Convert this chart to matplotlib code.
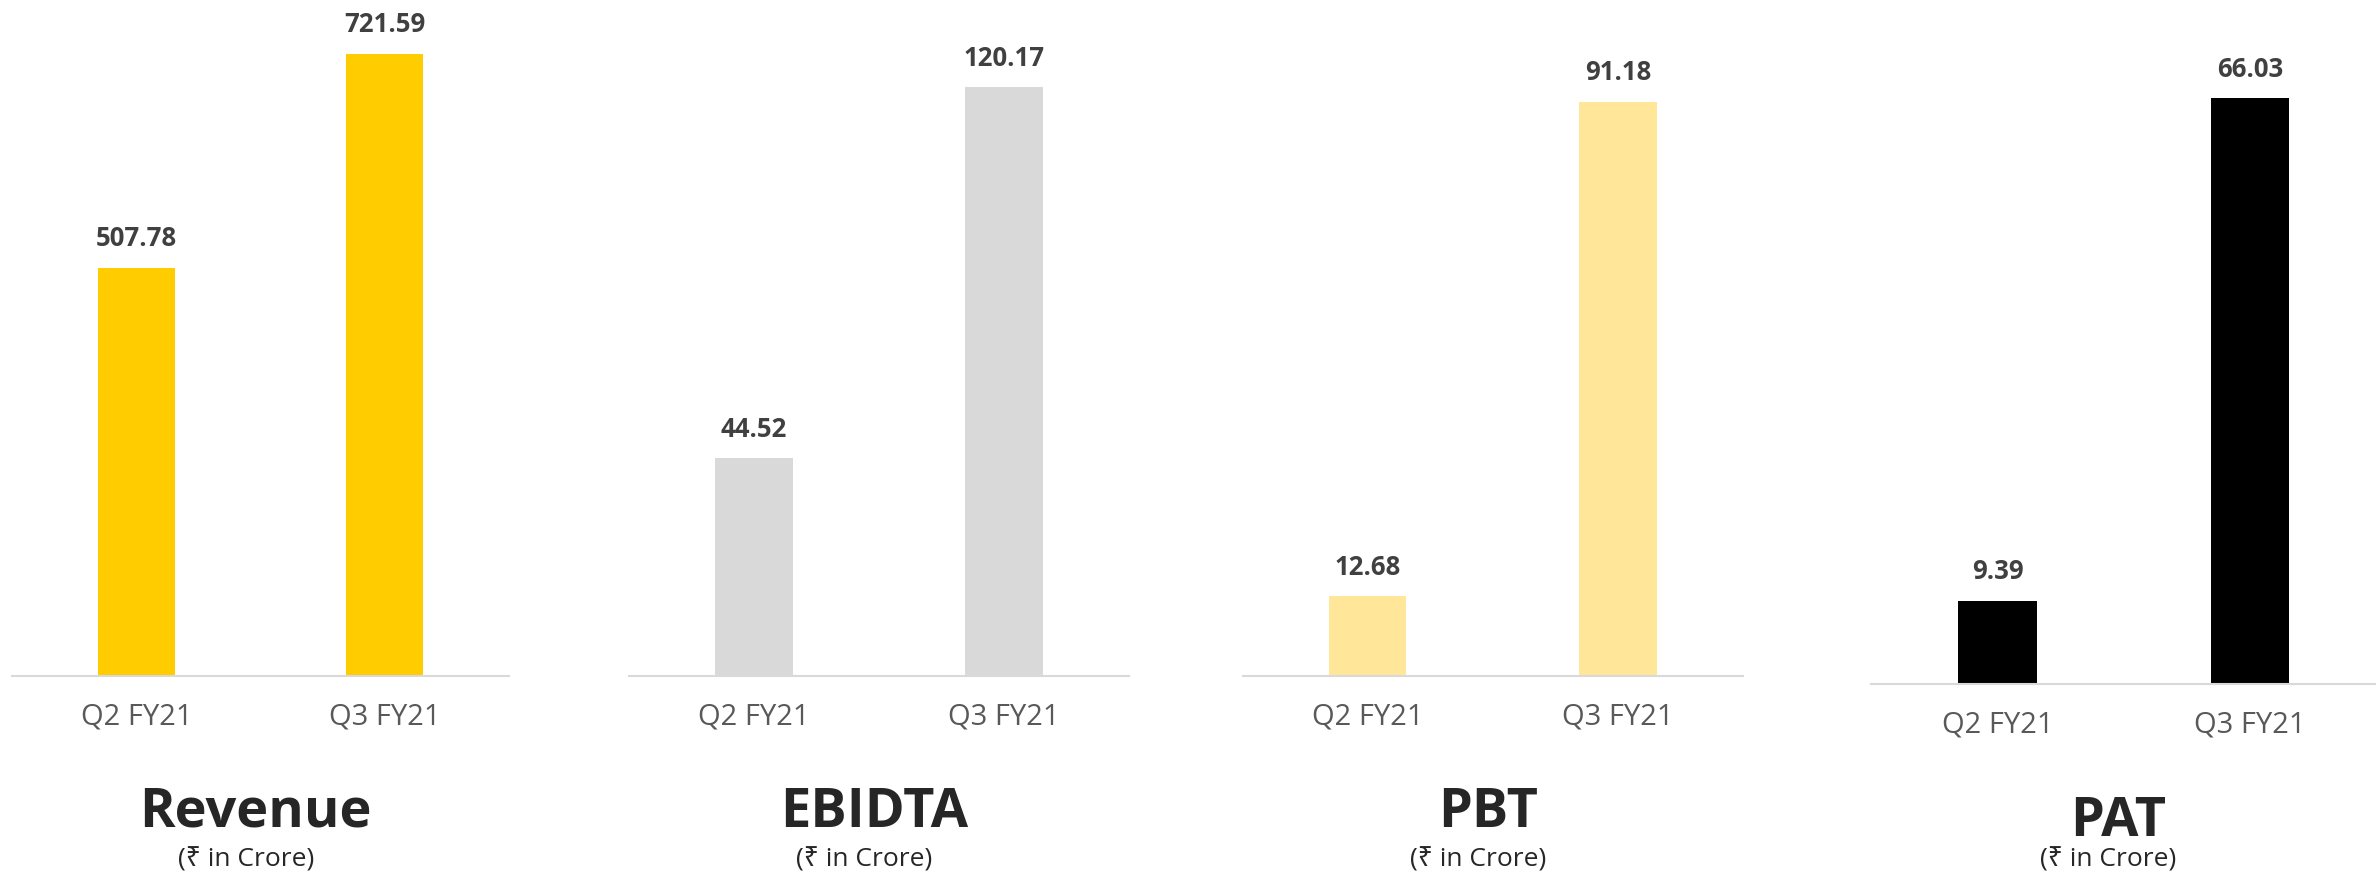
import matplotlib.pyplot as plt

plt.rcParams['font.family'] = ['Open Sans', 'Noto Sans', 'DejaVu Sans']

quarters = ["Q2 FY21", "Q3 FY21"]
titles = ["Revenue", "EBIDTA", "PBT", "PAT"]
subtitle = "(₹ in Crore)"
revenue = [507.78, 721.59]
ebidta = [44.52, 120.17]
pbt = [12.68, 91.18]
pat = [9.39, 66.03]

values = [revenue, ebidta, pbt, pat]
colors = ['#FFCC00', '#D9D9D9', '#FFE699', '#000000']
ylims = [(100, 775), (0, 138), (0, 107.3), (0, 77.1)]
# axes boxes in figure fractions: left, bottom, width, height
boxes = [
    [0.0051, 0.227, 0.2092, 0.773],
    [0.2647, 0.227, 0.2105, 0.773],
    [0.5230, 0.227, 0.2105, 0.773],
    [0.7876, 0.2184, 0.2124, 0.7816],
]
title_y = [0.071, 0.071, 0.071, 0.061]

fig = plt.figure(figsize=(23.76, 8.75), dpi=100)

for i in range(4):
    ax = fig.add_axes(boxes[i])
    bars = ax.bar([0, 1], values[i], width=0.31, color=colors[i])
    ax.set_xlim(-0.5, 1.5)
    ax.set_ylim(*ylims[i])
    for b, v in zip(bars, values[i]):
        ax.annotate(f"{v:.2f}", (b.get_x() + b.get_width() / 2, v),
                    xytext=(0, 21), textcoords='offset points',
                    ha='center', va='center', fontsize=18.5,
                    fontweight='bold', color='#404040')
    ax.set_xticks([0, 1])
    ax.set_xticklabels(quarters, fontsize=21, color='#595959')
    ax.tick_params(axis='x', length=0, pad=19)
    ax.set_yticks([])
    for s in ['top', 'left', 'right']:
        ax.spines[s].set_visible(False)
    ax.spines['bottom'].set_color('#D9D9D9')
    ax.spines['bottom'].set_linewidth(1.5)

    pos = ax.get_position()
    fig.text(pos.x0 + 0.49 * pos.width, title_y[i], titles[i],
             ha='center', va='center', fontsize=39, fontweight='bold',
             color='#262626')
    fig.text(pos.x0 + 0.47 * pos.width, 0.017, subtitle,
             ha='center', va='center', fontsize=19, color='#262626')

plt.savefig('out.png', dpi=100)
